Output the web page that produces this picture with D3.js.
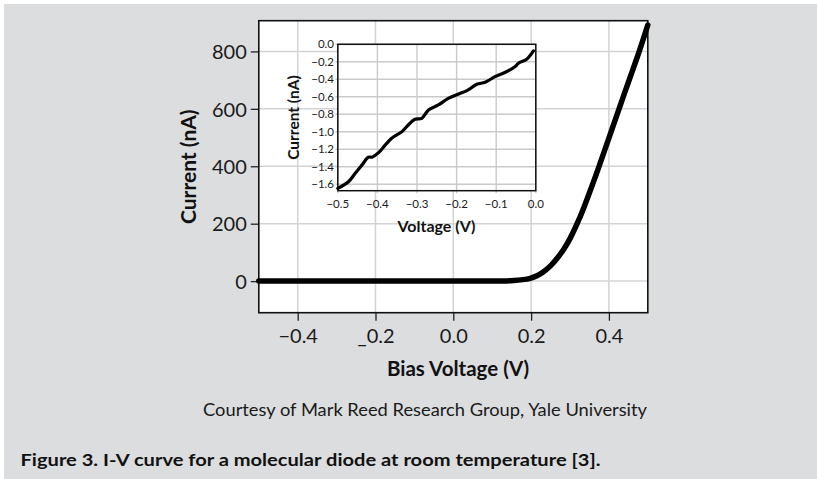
<!DOCTYPE html>
<html>
<head>
<meta charset="utf-8">
<script src="https://cdn.jsdelivr.net/npm/d3@7"></script>
<style>
  body { margin: 0; background: #fff; }
  svg { display: block; font-family: Lato, "Open Sans", sans-serif; }
</style>
</head>
<body>
<svg id="chart" width="817" height="479"></svg>
<script>
// Main I-V curve (bias voltage V, current nA)
const mainVoltage = [-0.5, -0.4, -0.2, 0.0, 0.1, 0.13, 0.155, 0.18, 0.198, 0.215, 0.232, 0.25, 0.267, 0.284, 0.301, 0.318, 0.335, 0.352, 0.37, 0.404, 0.438, 0.473, 0.5];
const mainCurrent = [0, 0, 0, 0, 0, 0.5, 2, 5, 9, 18, 32, 52, 79, 110, 149, 198, 253, 315, 381, 513, 648, 778, 892];
const mainTicksX = [-0.4, -0.2, 0.0, 0.2, 0.4];
const mainTickLabelsX = ["\u22120.4", "_0.2", "0.0", "0.2", "0.4"];
const mainTicksY = [0, 200, 400, 600, 800];

// Inset: reverse bias detail (V, nA)
const insetVoltage = [-0.5, -0.473, -0.456, -0.439, -0.423, -0.414, -0.397, -0.38, -0.364, -0.338, -0.322, -0.305, -0.288, -0.271, -0.246, -0.221, -0.195, -0.174, -0.149, -0.128, -0.103, -0.077, -0.052, -0.044, -0.023, -0.006];
const insetCurrent = [-1.646, -1.57, -1.474, -1.38, -1.29, -1.29, -1.238, -1.15, -1.074, -0.998, -0.922, -0.857, -0.846, -0.75, -0.693, -0.617, -0.568, -0.53, -0.457, -0.434, -0.37, -0.32, -0.255, -0.217, -0.171, -0.076];
const insetTicksX = [-0.5, -0.4, -0.3, -0.2, -0.1, 0.0];
const insetTicksY = [0.0, -0.2, -0.4, -0.6, -0.8, -1.0, -1.2, -1.4, -1.6];

const svg = d3.select("#chart");

// backdrop
svg.append("rect").attr("x", 4).attr("y", 4).attr("width", 813).attr("height", 475).attr("fill", "#dcdddf");

// ---- main plot ----
const x = d3.scaleLinear().domain([-0.5, 0.5]).range([258.8, 647.8]);
const y = d3.scaleLinear().domain([-110, 907]).range([312.7, 20.7]);

svg.append("rect")
    .attr("x", x(-0.5)).attr("y", y(907))
    .attr("width", x(0.5) - x(-0.5)).attr("height", y(-110) - y(907))
    .attr("fill", "#fff");

const mainGrid = svg.append("g").attr("stroke", "#d2d3d5").attr("stroke-width", 1.5);
mainGrid.selectAll("line.v").data(mainTicksX).join("line")
    .attr("x1", d => x(d)).attr("x2", d => x(d))
    .attr("y1", y(907)).attr("y2", y(-110));
mainGrid.selectAll("line.h").data(mainTicksY).join("line")
    .attr("y1", d => y(d)).attr("y2", d => y(d))
    .attr("x1", x(-0.5)).attr("x2", x(0.5));

const xAxis = svg.append("g")
    .attr("transform", `translate(0,${y(-110)})`)
    .call(d3.axisBottom(x).tickValues(mainTicksX).tickSize(8).tickPadding(6)
        .tickFormat((d, i) => mainTickLabelsX[i]));
const yAxis = svg.append("g")
    .attr("transform", `translate(${x(-0.5)},0)`)
    .call(d3.axisLeft(y).tickValues(mainTicksY).tickSize(8).tickPadding(4));
[xAxis, yAxis].forEach(a => {
    a.select(".domain").remove();
    a.selectAll(".tick line").attr("stroke", "#222").attr("stroke-width", 1.3);
    a.selectAll(".tick text").attr("font-size", 20).attr("fill", "#1a1a1a")
        .attr("font-family", "Lato, sans-serif");
});
xAxis.selectAll(".tick text").attr("dy", "0.8em");
yAxis.selectAll(".tick text").attr("dy", "0.36em");

svg.append("rect")
    .attr("x", x(-0.5)).attr("y", y(907))
    .attr("width", x(0.5) - x(-0.5)).attr("height", y(-110) - y(907))
    .attr("fill", "none").attr("stroke", "#111").attr("stroke-width", 1.6);

const mainLine = d3.line()
    .x((d, i) => x(mainVoltage[i]))
    .y(d => y(d))
    .curve(d3.curveBasis);
svg.append("path")
    .datum(mainCurrent)
    .attr("d", mainLine)
    .attr("fill", "none").attr("stroke", "#000")
    .attr("stroke-width", 5.5).attr("stroke-linecap", "round").attr("stroke-linejoin", "round");

svg.append("text")
    .attr("transform", `translate(196,${(y(907) + y(-110)) / 2}) rotate(-90)`)
    .attr("text-anchor", "middle")
    .attr("font-size", 21).attr("font-weight", "bold").attr("fill", "#111")
    .text("Current (nA)");
svg.append("text")
    .attr("x", 458).attr("y", 375.5)
    .attr("text-anchor", "middle")
    .attr("font-size", 20.5).attr("font-weight", "bold").attr("fill", "#111")
    .text("Bias Voltage (V)");

// ---- inset ----
const ix = d3.scaleLinear().domain([-0.5, 0.0]).range([337.8, 535.8]);
const iy = d3.scaleLinear().domain([-1.673, 0.0]).range([190.7, 44.3]);

svg.append("rect")
    .attr("x", ix(-0.5)).attr("y", iy(0))
    .attr("width", ix(0) - ix(-0.5)).attr("height", iy(-1.673) - iy(0))
    .attr("fill", "#fff");

const insetGrid = svg.append("g").attr("stroke", "#c9cacc").attr("stroke-width", 1.4);
insetGrid.selectAll("line.v").data(insetTicksX).join("line")
    .attr("x1", d => ix(d)).attr("x2", d => ix(d))
    .attr("y1", iy(0)).attr("y2", iy(-1.673) + 2.5);
insetGrid.selectAll("line.h").data(insetTicksY).join("line")
    .attr("y1", d => iy(d)).attr("y2", d => iy(d))
    .attr("x1", ix(-0.5) - 2.5).attr("x2", ix(0));

const fmt = d3.format(".1f");
svg.append("g").selectAll("text").data(insetTicksX).join("text")
    .attr("x", d => ix(d)).attr("y", 207.5)
    .attr("text-anchor", "middle")
    .attr("font-size", 11.5).attr("fill", "#1a1a1a")
    .text(d => fmt(d));
svg.append("g").selectAll("text").data(insetTicksY).join("text")
    .attr("x", 334).attr("y", d => iy(d))
    .attr("dy", "0.36em")
    .attr("text-anchor", "end")
    .attr("font-size", 11.5).attr("fill", "#1a1a1a")
    .text(d => fmt(d));

svg.append("rect")
    .attr("x", ix(-0.5)).attr("y", iy(0))
    .attr("width", ix(0) - ix(-0.5)).attr("height", iy(-1.673) - iy(0))
    .attr("fill", "none").attr("stroke", "#111").attr("stroke-width", 1.5);

const insetLine = d3.line()
    .x((d, i) => ix(insetVoltage[i]))
    .y(d => iy(d))
    .curve(d3.curveCatmullRom.alpha(0.5));
svg.append("path")
    .datum(insetCurrent)
    .attr("d", insetLine)
    .attr("fill", "none").attr("stroke", "#000")
    .attr("stroke-width", 3.2).attr("stroke-linecap", "round").attr("stroke-linejoin", "round");

svg.append("text")
    .attr("transform", `translate(299,${(iy(0) + iy(-1.673)) / 2}) rotate(-90)`)
    .attr("text-anchor", "middle")
    .attr("font-size", 15.5).attr("font-weight", "bold").attr("fill", "#111")
    .text("Current (nA)");
svg.append("text")
    .attr("x", 436.5).attr("y", 232)
    .attr("text-anchor", "middle")
    .attr("font-size", 16).attr("font-weight", "bold").attr("fill", "#111")
    .text("Voltage (V)");

// ---- captions ----
svg.append("text")
    .attr("x", 203).attr("y", 416)
    .attr("textLength", 444).attr("lengthAdjust", "spacingAndGlyphs")
    .attr("font-size", 16.5).attr("fill", "#1a1a1a")
    .text("Courtesy of Mark Reed Research Group, Yale University");
svg.append("text")
    .attr("x", 20.5).attr("y", 466)
    .attr("textLength", 580).attr("lengthAdjust", "spacingAndGlyphs")
    .attr("font-size", 17.5).attr("font-weight", "bold").attr("fill", "#111")
    .text("Figure 3. I-V curve for a molecular diode at room temperature [3].");
</script>
</body>
</html>
